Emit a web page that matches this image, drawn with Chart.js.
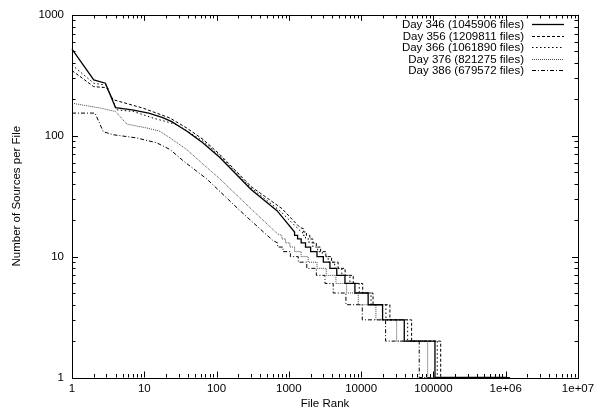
<!DOCTYPE html>
<html lang="en">
<head>
  <meta charset="UTF-8" />
  <title>Number of Sources per File vs File Rank</title>
  <script src="https://cdn.jsdelivr.net/npm/chart.js"></script>
  <style>
    body {
      background-color: white;
      margin: 0;
      padding: 0;
    }

    canvas {
      display: block;
    }
  </style>
</head>
<body>

  <canvas id="rankChart" width="601" height="414"></canvas>

  <script>
    // axis ticks
    const xMajorTicks = [1, 10, 100, 1000, 10000, 100000, 1000000, 10000000];
    const xTickLabels = ['1', '10', '100', '1000', '10000', '100000', '1e+06', '1e+07'];
    const yMajorTicks = [1, 10, 100, 1000];
    const yTickLabels = ['1', '10', '100', '1000'];

    const seriesLabels = [
      'Day 346 (1045906 files)',
      'Day 356 (1209811 files)',
      'Day 366 (1061890 files)',
      'Day 376 (821275 files)',
      'Day 386 (679572 files)'
    ];

    // rank / sources-per-file (steps = last rank at a value)
    const day346Ranks = [1, 2, 2.9, 4, 6.8, 11.5, 17.6, 24, 33, 39, 65, 111, 300, 685, 1200, 1200, 1320, 1320, 1480, 1480, 1700, 1700, 2000, 2000, 2450, 2450, 3000, 3000, 3700, 3700, 4600, 4600, 5970, 5970, 8200, 8200, 12500, 12500, 19800, 19800, 39500, 39500, 105000, 105000, 1045906];
    const day346Values = [521, 290, 272, 171, 164, 154, 142, 131, 116, 109, 87, 66, 36, 24, 16, 15, 15, 14, 14, 13, 13, 12, 12, 11, 11, 10, 10, 9, 9, 8, 8, 7, 7, 6, 6, 5, 5, 4, 4, 3, 3, 2, 2, 1, 1];

    const day356Ranks = [1, 2, 3, 3.7, 9.7, 22.7, 38.6, 65.5, 111, 300, 800, 1425, 1600, 1600, 1750, 1750, 1950, 1950, 2150, 2150, 2400, 2400, 2750, 2750, 3250, 3250, 3900, 3900, 4800, 4800, 6000, 6000, 7780, 7780, 10500, 10500, 14600, 14600, 25000, 25000, 49900, 49900, 126000, 126000, 1209811];
    const day356Values = [346, 255, 250, 199, 169, 140, 116, 93, 70, 38, 25, 17.4, 17, 16, 16, 15, 15, 14, 14, 13, 13, 12, 12, 11, 11, 10, 10, 9, 9, 8, 8, 7, 7, 6, 6, 5, 5, 4, 4, 3, 3, 2, 2, 1, 1];

    const day366Ranks = [1, 2, 3, 4.15, 7, 13.3, 28, 65.5, 111, 300, 750, 1425, 1550, 1550, 1700, 1700, 1900, 1900, 2150, 2150, 2500, 2500, 2900, 2900, 3500, 3500, 4300, 4300, 5400, 5400, 7000, 7000, 9420, 9420, 13700, 13700, 22000, 22000, 44000, 44000, 113000, 113000, 1061890];
    const day366Values = [385, 272, 262, 164, 159, 140, 124, 90, 68, 37, 24, 16.4, 16, 15, 15, 14, 14, 13, 13, 12, 12, 11, 11, 10, 10, 9, 9, 8, 8, 7, 7, 6, 6, 5, 5, 4, 4, 3, 3, 2, 2, 1, 1];

    const day376Ranks = [1, 2.4, 3.97, 4.6, 5.7, 10.8, 16.5, 22.7, 38.6, 65.5, 111, 319, 700, 800, 800, 900, 900, 1030, 1030, 1200, 1200, 1480, 1480, 1850, 1850, 2450, 2450, 3300, 3300, 4480, 4480, 6300, 6300, 9120, 9120, 16000, 16000, 31000, 31000, 83200, 83200, 821275];
    const day376Values = [186, 170, 159, 145, 125, 116, 109, 96, 77, 58, 44, 24, 15.4, 15, 14, 14, 13, 13, 12, 12, 11, 11, 10, 10, 9, 9, 8, 8, 7, 7, 6, 6, 5, 5, 4, 4, 3, 3, 2, 2, 1, 1];

    const day386Ranks = [1, 2.08, 2.71, 3.7, 7.8, 14.8, 22.7, 34.6, 52.8, 73, 211, 600, 700, 700, 830, 830, 1050, 1050, 1350, 1350, 1770, 1770, 2400, 2400, 3160, 3160, 4110, 4110, 6160, 6160, 10360, 10360, 21800, 21800, 63600, 63600, 679572];
    const day386Values = [154, 154, 108, 102, 96, 87.5, 77, 62, 51, 44, 24, 13.6, 13, 12, 12, 11, 11, 10, 10, 9, 9, 8, 8, 7, 7, 6, 6, 5, 5, 4, 4, 3, 3, 2, 2, 1, 1];

    const FONT = '"Liberation Sans", Arial, sans-serif';

    function toPoints(ranks, values) {
      return ranks.map((r, i) => ({ x: r, y: values[i] }));
    }

    function serie(label, ranks, values, dash, color, width) {
      return {
        label: label,
        data: toPoints(ranks, values),
        borderColor: color,
        borderWidth: width,
        borderDash: dash,
        pointRadius: 0,
        showLine: true,
        fill: false,
        tension: 0,
        clip: false
      };
    }

    // box round the plot with inward ticks on all four sides (gnuplot style)
    const boxPlugin = {
      id: 'boxTicks',
      afterDraw(chart) {
        const { ctx, chartArea: a, scales: { x, y } } = chart;
        ctx.save();
        ctx.strokeStyle = '#000';
        ctx.lineWidth = 1;
        ctx.setLineDash([]);
        ctx.strokeRect(Math.round(a.left) + 0.5, Math.round(a.top) + 0.5,
          Math.round(a.right - a.left), Math.round(a.bottom - a.top));

        ctx.beginPath();
        xMajorTicks.forEach((d) => {
          for (let m = 1; m <= 9; m++) {
            const v = d * m;
            if (v > xMajorTicks[xMajorTicks.length - 1]) break;
            const px = Math.round(x.getPixelForValue(v)) + 0.5;
            const len = m === 1 ? 6 : 3.5;
            ctx.moveTo(px, a.bottom); ctx.lineTo(px, a.bottom - len);
            ctx.moveTo(px, a.top); ctx.lineTo(px, a.top + len);
          }
        });
        yMajorTicks.forEach((d) => {
          for (let m = 1; m <= 9; m++) {
            const v = d * m;
            if (v > yMajorTicks[yMajorTicks.length - 1]) break;
            const py = Math.round(y.getPixelForValue(v)) + 0.5;
            const len = m === 1 ? 6 : 3.5;
            ctx.moveTo(a.left, py); ctx.lineTo(a.left + len, py);
            ctx.moveTo(a.right, py); ctx.lineTo(a.right - len, py);
          }
        });
        ctx.stroke();
        ctx.restore();
      }
    };

    // key in the top right corner: text first, line sample after it
    const keyPlugin = {
      id: 'insideKey',
      afterDatasetsDraw(chart) {
        const { ctx, chartArea: a } = chart;
        ctx.save();
        ctx.font = '11.5px ' + FONT;
        ctx.textAlign = 'right';
        ctx.textBaseline = 'middle';
        chart.data.datasets.forEach((ds, i) => {
          const yy = Math.round(a.top + 9.5 + i * 11.5) + 0.5;
          ctx.fillStyle = '#000';
          ctx.fillText(ds.label, a.right - 54, yy);
          ctx.beginPath();
          ctx.setLineDash(ds.borderDash || []);
          ctx.strokeStyle = ds.borderColor;
          ctx.lineWidth = ds.borderWidth;
          ctx.moveTo(a.right - 46, yy);
          ctx.lineTo(a.right - 14, yy);
          ctx.stroke();
        });
        ctx.restore();
      }
    };

    const ctx = document.getElementById('rankChart').getContext('2d');
    const chart = new Chart(ctx, {
      type: 'scatter',
      data: {
        datasets: [
          serie(seriesLabels[0], day346Ranks, day346Values, [], '#000', 1.3),
          serie(seriesLabels[1], day356Ranks, day356Values, [3, 2], '#000', 1),
          serie(seriesLabels[2], day366Ranks, day366Values, [1.5, 2.5], '#000', 1),
          serie(seriesLabels[3], day376Ranks, day376Values, [1, 1], '#444', 1),
          serie(seriesLabels[4], day386Ranks, day386Values, [4, 2, 1, 2], '#000', 1)
        ]
      },
      options: {
        responsive: false,
        animation: false,
        layout: { padding: { left: 0, right: 23, top: 13, bottom: 0 } },
        plugins: {
          legend: { display: false },
          tooltip: { enabled: false }
        },
        scales: {
          x: {
            type: 'logarithmic',
            position: 'bottom',
            min: 1,
            max: 10000000,
            grid: { display: false, drawTicks: false },
            border: { display: false },
            afterBuildTicks: (scale) => {
              scale.ticks = xMajorTicks.map(v => ({ value: v }));
            },
            afterFit: (scale) => { scale.height = 36.5; },
            ticks: {
              autoSkip: false,
              maxRotation: 0,
              padding: 4,
              color: '#000',
              font: { family: FONT, size: 11.5 },
              callback: (value, index) => xTickLabels[index]
            },
            title: {
              display: true,
              text: 'File Rank',
              color: '#000',
              font: { family: FONT, size: 11.5 },
              padding: { top: 0, bottom: 3 }
            }
          },
          y: {
            type: 'logarithmic',
            position: 'left',
            min: 1,
            max: 1000,
            grid: { display: false, drawTicks: false },
            border: { display: false },
            afterBuildTicks: (scale) => {
              scale.ticks = yMajorTicks.map(v => ({ value: v }));
            },
            afterFit: (scale) => { scale.width = 72; },
            ticks: {
              autoSkip: false,
              padding: 8,
              color: '#000',
              font: { family: FONT, size: 11.5 },
              callback: (value, index) => yTickLabels[index]
            },
            title: {
              display: true,
              text: 'Number of Sources per File',
              color: '#000',
              font: { family: FONT, size: 11.5 },
              padding: { top: 10, bottom: 0 }
            }
          }
        }
      },
      plugins: [boxPlugin, keyPlugin]
    });
  </script>
</body>
</html>
